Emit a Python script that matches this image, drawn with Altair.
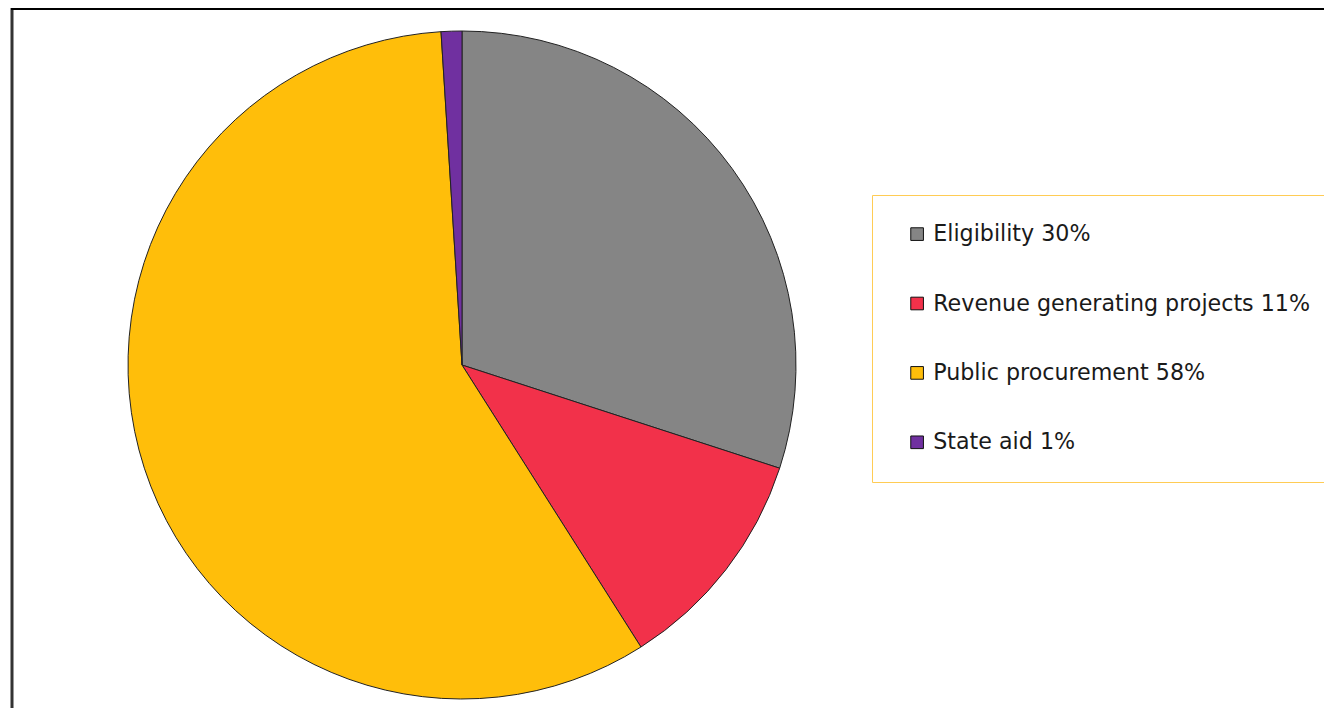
import altair as alt
import pandas as pd

categories = ["Eligibility 30%", "Revenue generating projects 11%", "Public procurement 58%", "State aid 1%"]
values = [30, 11, 58, 1]
colors = ["#858585", "#f2314a", "#ffbe0a", "#7030a0"]

df = pd.DataFrame({"category": categories, "value": values, "order": list(range(len(categories)))})

pie = alt.Chart(df).mark_arc(radius=334, stroke="#222222", strokeWidth=1).encode(
    theta=alt.Theta("value:Q", stack=True),
    order=alt.Order("order:Q"),
    color=alt.Color(
        "category:N",
        sort=categories,
        scale=alt.Scale(domain=categories, range=colors),
        legend=alt.Legend(
            title=None,
            orient="none",
            legendX=864,
            legendY=187,
            padding=28,
            symbolOffset=6,
            rowPadding=46.4,
            symbolType="square",
            symbolSize=160,
            symbolStrokeColor="#111111",
            symbolStrokeWidth=1,
            labelFont="DejaVu Sans",
            labelFontSize=22.2,
            labelColor="#1a1a1a",
            labelLimit=700,
            labelOffset=5,
            strokeColor="#ffcc55",
            fillColor="white",
        ),
    ),
    x=alt.value(454),
    y=alt.value(357),
)

border_df = pd.DataFrame({"k": [0]})
left_rule = alt.Chart(border_df).mark_rule(color="#333333", strokeWidth=3).encode(
    x=alt.value(4), y=alt.value(0), y2=alt.value(720)
)
top_rule = alt.Chart(border_df).mark_rule(color="#000000", strokeWidth=2).encode(
    x=alt.value(3), x2=alt.value(1330), y=alt.value(1)
)

chart = alt.layer(pie, left_rule, top_rule).properties(
    width=1316,
    height=700,
    autosize=alt.AutoSizeParams(type="none"),
    padding=0,
).configure_view(strokeWidth=0)

chart.save("out.html", embed_options={"renderer": "svg", "actions": False})
